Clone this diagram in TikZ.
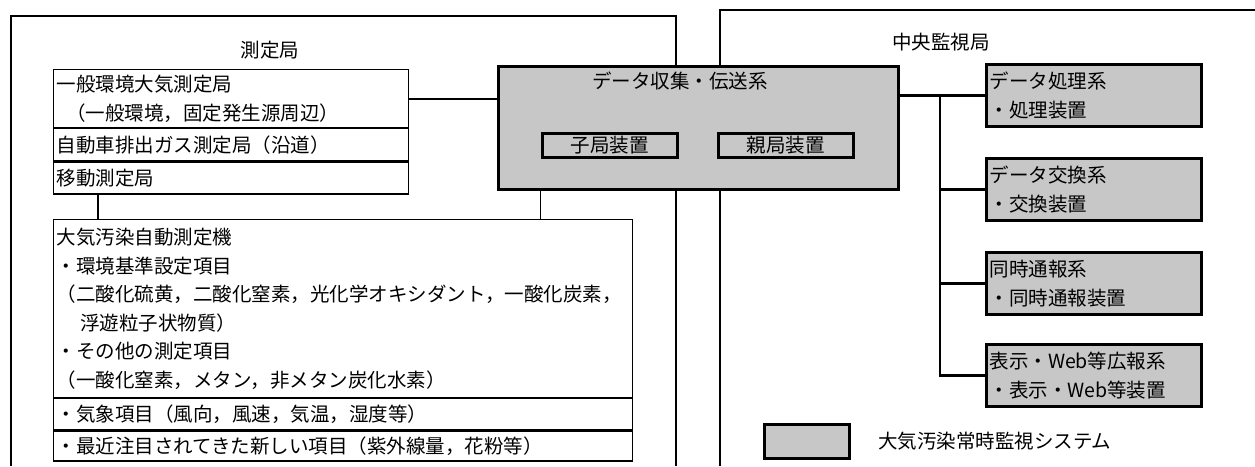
\documentclass[tikz,border=0pt]{standalone}
\usepackage{fontspec}
\setmainfont{Noto Sans CJK JP}
\usetikzlibrary{positioning}

\begin{document}
\begin{tikzpicture}[
x=1pt, y=-1pt,
font=\fontsize{19.5}{28.5}\selectfont,
frame/.style={draw, line width=1.2pt},
row/.style={draw,
rectangle,
line width=1.2pt,
anchor=north west,
align=left,
inner xsep=3pt,
inner ysep=0pt},
sysbox/.style={draw,
rectangle,
line width=3pt,
fill=black!22,
inner sep=0pt},
link/.style={line width=2.2pt},
wire/.style={line width=1.2pt}
]

\useasboundingbox[fill=white] (0,0) rectangle (1255,466);

\draw[frame] (11,466) -- (11,16) -- (676,16) -- (676,466);
\draw[frame] (720,466) -- (720,10) -- (1255,10);

\node (sitetitle) at (270,50) {測定局};
\node (centertitle) at (941,42) {中央監視局};

\node[row, text width=349pt, minimum height=58pt] (general) at (53,69) {一般環境大気測定局\\\hspace{0.5em}（一般環境，固定発生源周辺）};
\node[row, text width=349pt, minimum height=32pt] (roadside) at (general.south west) {自動車排出ガス測定局（沿道）};
\node[row, text width=349pt, minimum height=32pt] (mobile) at (roadside.south west) {移動測定局};

\node[row, text width=573pt, minimum height=178pt] (analyser) at (53,219) {大気汚染自動測定機\\・環境基準設定項目\\（二酸化硫黄，二酸化窒素，光化学オキシダント，一酸化炭素，\\\hspace{1.2em}浮遊粒子状物質）\\・その他の測定項目\\（一酸化窒素，メタン，非メタン炭化水素）};
\node[row, text width=573pt, minimum height=31pt] (weather) at (analyser.south west) {・気象項目（風向，風速，気温，湿度等）};
\node[row, text width=573pt, minimum height=30pt] (newitems) at (weather.south west) {・最近注目されてきた新しい項目（紫外線量，花粉等）};

\node[sysbox, minimum width=400pt, minimum height=123pt, anchor=north west] (collect) at (497,65) {};
\node (collecttitle) at (680,81) {データ収集・伝送系};
\node[sysbox, minimum width=135pt, minimum height=24pt] (kid) at (609.5,145) {子局装置};
\node[sysbox, minimum width=135pt, minimum height=24pt] (parent) at (785.5,145) {親局装置};

\node[sysbox, align=left, inner xsep=3pt, text width=209pt, minimum height=62pt, anchor=north west] (proc) at (985,63) {データ処理系\\・処理装置};
\node[sysbox, align=left, inner xsep=3pt, text width=209pt, minimum height=62pt, below=29pt of proc] (exch) {データ交換系\\・交換装置};
\node[sysbox, align=left, inner xsep=3pt, text width=209pt, minimum height=62pt, below=29pt of exch] (alarm) {同時通報系\\・同時通報装置};
\node[sysbox, align=left, inner xsep=3pt, text width=209pt, minimum height=62pt, below=27pt of alarm] (disp) {表示・Web等広報系\\・表示・Web等装置};

\node[sysbox, line width=2.5pt, minimum width=85pt, minimum height=34pt, anchor=north west] (key) at (763,423) {};
\node[right=24pt of key] (keytext) {大気汚染常時監視システム};

\coordinate (spine) at (940,95);

\draw[link] (general.east) -- (general.east -| collect.west);
\draw[wire] ([xshift=45pt]mobile.south west) -- ([xshift=45pt]analyser.north west);
\draw[wire] (kid.west |- collect.south) -- (kid.west |- analyser.north);

\draw[link] (collect.east |- proc.west) -- (proc.west);
\draw[link] (spine |- proc.west) -- (spine |- disp.west) -- (disp.west);
\draw[link] (spine |- exch.west) -- (exch.west);
\draw[link] (spine |- alarm.west) -- (alarm.west);

\end{tikzpicture}
\end{document}
